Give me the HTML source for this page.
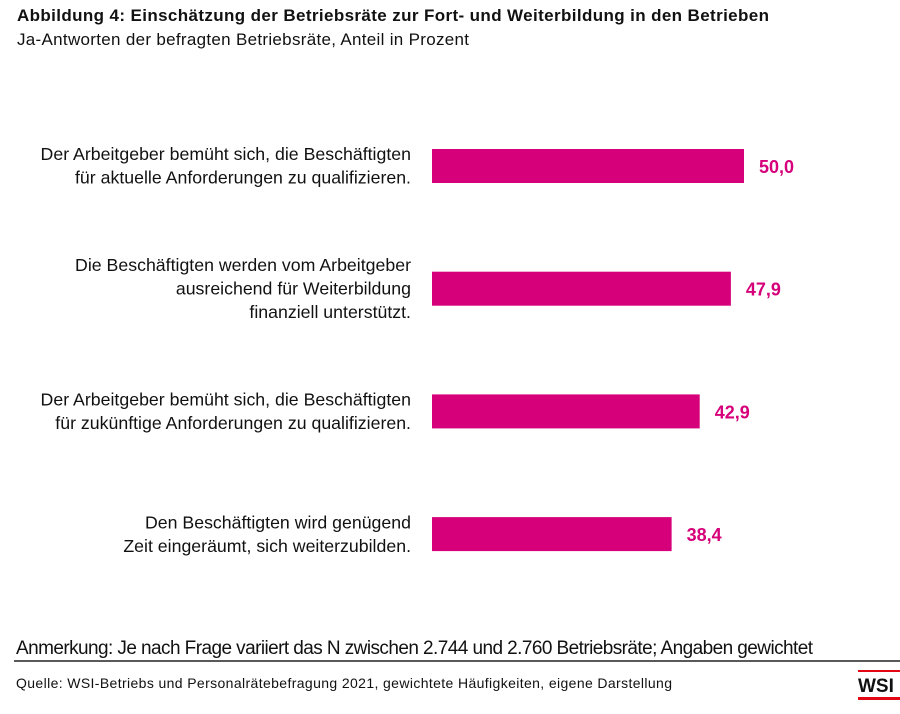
<!DOCTYPE html>
<html><head><meta charset="utf-8"><style>
body{margin:0;background:#fff;width:900px;height:709px;overflow:hidden}
svg text{font-family:"Liberation Sans",Arial,sans-serif}
</style></head><body>
<svg width="900" height="709">
<text x="17" y="21" font-size="17" font-weight="bold" fill="#111" textLength="752">Abbildung 4: Einschätzung der Betriebsräte zur Fort- und Weiterbildung in den Betrieben</text>
<text x="17" y="45" font-size="17" fill="#111" textLength="452">Ja-Antworten der befragten Betriebsräte, Anteil in Prozent</text>
<g id="bars"></g>
<text x="16" y="654" font-size="19" fill="#111" textLength="797">Anmerkung: Je nach Frage variiert das N zwischen 2.744 und 2.760 Betriebsräte; Angaben gewichtet</text>
<line x1="14" y1="661" x2="900" y2="661" stroke="#222" stroke-width="1.5"/>
<text x="16" y="688" font-size="14" fill="#111" textLength="656">Quelle: WSI-Betriebs und Personalrätebefragung 2021, gewichtete Häufigkeiten, eigene Darstellung</text>
<rect x="858" y="670" width="42" height="2" fill="#e30613"/>
<text x="858" y="692" font-size="19" font-weight="bold" fill="#111">WSI</text>
<rect x="858" y="697" width="42" height="3" fill="#e30613"/>
</svg>
<script>
const categories=[
["Der Arbeitgeber bemüht sich, die Beschäftigten","für aktuelle Anforderungen zu qualifizieren."],
["Die Beschäftigten werden vom Arbeitgeber","ausreichend für Weiterbildung","finanziell unterstützt."],
["Der Arbeitgeber bemüht sich, die Beschäftigten","für zukünftige Anforderungen zu qualifizieren."],
["Den Beschäftigten wird genügend","Zeit eingeräumt, sich weiterzubilden."]];
const values=[50.0,47.9,42.9,38.4];
const valueLabels=["50,0","47,9","42,9","38,4"];
const x0=432, pxPerUnit=6.24;
function xScale(v){return x0+v*pxPerUnit;}
function yCenter(i){return 166+i*122.7;}
const NS="http://www.w3.org/2000/svg";
const g=document.getElementById('bars');
values.forEach((v,i)=>{
 const yc=yCenter(i);
 const r=document.createElementNS(NS,'rect');
 r.setAttribute('x',x0);r.setAttribute('y',yc-17);
 r.setAttribute('width',xScale(v)-x0);r.setAttribute('height',34);
 r.setAttribute('fill','#d6007a');
 
 
 g.appendChild(r);
 const t=document.createElementNS(NS,'text');
 t.setAttribute('x',xScale(v)+15);t.setAttribute('y',yc+7);
 t.setAttribute('font-size','18');t.setAttribute('font-weight','bold');t.setAttribute('fill','#d6007a');
 t.textContent=valueLabels[i];
 
 
 g.appendChild(t);
 const lines=categories[i];
 const lh=23.5;
 lines.forEach((s,j)=>{
  const l=document.createElementNS(NS,'text');
  l.setAttribute('x',411);
  l.setAttribute('y',yc+6+(j-(lines.length-1)/2)*lh);
  l.setAttribute('text-anchor','end');l.setAttribute('font-size','18');l.setAttribute('fill','#111');
  l.setAttribute('transform','translate(411 0) scale(0.985 1) translate(-411 0)');
  l.textContent=s;
  
  
  g.appendChild(l);
 });
});
</script>
</body></html>
